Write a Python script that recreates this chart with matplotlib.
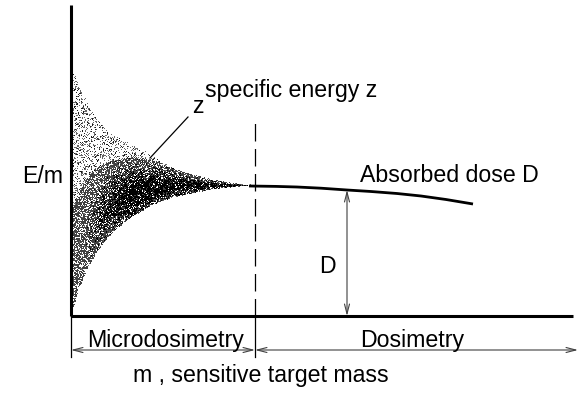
import numpy as np
import matplotlib
matplotlib.use("Agg")
import matplotlib.pyplot as plt

plt.rcParams["font.family"] = ["Liberation Sans", "DejaVu Sans"]

# ---- schematic data (arbitrary units: mass on x, energy per mass on y) ----
# boundary between microdosimetry and dosimetry regimes
m_split = 184

# lower envelope of the specific-energy scatter
low_m = [0, 1, 7, 17, 27, 44, 61, 81, 104, 139, 176, 184]
low_z = [0, 3, 26, 49, 66, 86, 99, 111, 119, 126, 130, 130]

# upper envelope of the dense (dark) part of the scatter
mid_m = [0, 7, 17, 27, 44, 61, 81, 104, 139, 176, 184]
mid_z = [101, 123, 139, 149, 156, 158, 156, 146, 136, 130, 130]

# upper envelope of the sparse (light) part of the scatter
top_m = [0, 1, 11, 21, 34, 51, 71, 81, 104, 139, 184]
top_z = [251, 246, 223, 203, 186, 176, 166, 159, 146, 136, 130]

# absorbed dose curve D(m) beyond the split
dose_m = [178, 205, 226, 250, 276, 300, 326, 350, 375, 402]
dose_z = [130, 129.6, 129, 127.8, 126, 124.5, 122.5, 120, 116.5, 112]

# position of the "D" dimension arrow
d_arrow_m = 276

fig = plt.figure(figsize=(5.79, 3.99), dpi=100)
ax = fig.add_axes([0, 0, 1, 1])
ax.set_xlim(-71, 508)
ax.set_ylim(-83, 316)
ax.axis("off")

FS = 16.7
rng = np.random.default_rng(11)


def stipple(x0, x1, y0, y1, lower, upper, density, weight=None, color="k"):
    """Fill the band lower(x) < y < upper(x) with a random dot texture."""
    n = int((x1 - x0) * (y1 - y0) * density)
    xs = rng.uniform(x0, x1, n)
    ys = rng.uniform(y0, y1, n)
    lo = lower(xs)
    hi = upper(xs)
    keep = (ys > lo) & (ys < hi)
    if weight is not None:
        keep &= rng.uniform(0, 1, n) < weight(xs, ys, lo, hi)
    ax.plot(xs[keep], ys[keep], ",", color=color, zorder=2)


lower = lambda x: np.interp(x, low_m, low_z)
mid = lambda x: np.interp(x, mid_m, mid_z)
top = lambda x: np.interp(x, top_m, top_z)

# sparse light dots over the whole fluctuation region
stipple(0, m_split, 0, 255, lower, top, 0.22, color="0.4")
stipple(0, 90, 60, 255, mid, top, 0.08, color="0.1")
# dense band
stipple(0, m_split, 0, 160, lower, mid, 1.0, color="0.25")


def core_weight(x, y, lo, hi):
    t = (y - lo) / np.maximum(hi - lo, 1e-6)
    w = np.exp(-((t - 0.38) / 0.3) ** 2)
    return w * np.clip((x - 15) / 45, 0, 1)


stipple(0, m_split, 0, 160, lower, mid, 1.5, weight=core_weight, color="k")

# axes of the schematic
ax.plot([0, 0], [0, 311], color="k", lw=2.2, solid_capstyle="butt", zorder=4)
ax.plot([0, 502], [0, 0], color="k", lw=2.2, solid_capstyle="butt", zorder=4)

# regime boundary
ax.plot([m_split, m_split], [0, 199], color="k", lw=0.9, ls=(0, (14, 6)), zorder=3)
ax.plot([m_split, m_split], [0, -41], color="k", lw=0.9, zorder=3)
ax.plot([0, 0], [0, -41], color="k", lw=0.9, zorder=3)

# absorbed dose curve
ax.plot(dose_m, dose_z, color="k", lw=2.0, solid_capstyle="butt", zorder=4)

arrow_kw = dict(arrowstyle="<->,head_length=0.7,head_width=0.18",
                lw=0.8, color="0.25", shrinkA=0, shrinkB=0, mutation_scale=10)

# dimension arrow for D
d_top = float(np.interp(d_arrow_m, dose_m, dose_z))
ax.annotate("", xy=(d_arrow_m, 0), xytext=(d_arrow_m, d_top), arrowprops=arrow_kw)

# regime span arrows
ax.annotate("", xy=(0, -34), xytext=(m_split, -34), arrowprops=arrow_kw)
ax.annotate("", xy=(m_split, -34), xytext=(507, -34), arrowprops=arrow_kw)

# leader line from the "z" label to the scatter
ax.plot([117, 79], [199, 158], color="k", lw=0.9, zorder=3)

txt = dict(fontsize=FS, va="baseline", ha="left", color="k")
ax.text(-49, 133, "E/m", **txt)
ax.text(134, 219, "specific energy z", **txt)
ax.text(121, 203, "z", **txt)
ax.text(289, 134, "Absorbed dose D", **txt)
ax.text(248, 43, "D", **txt)
ax.text(16, -31, "Microdosimetry", **txt)
ax.text(289, -31, "Dosimetry", **txt)
ax.text(62, -66, "m , sensitive target mass", **txt)

fig.savefig("out.png", dpi=100)
